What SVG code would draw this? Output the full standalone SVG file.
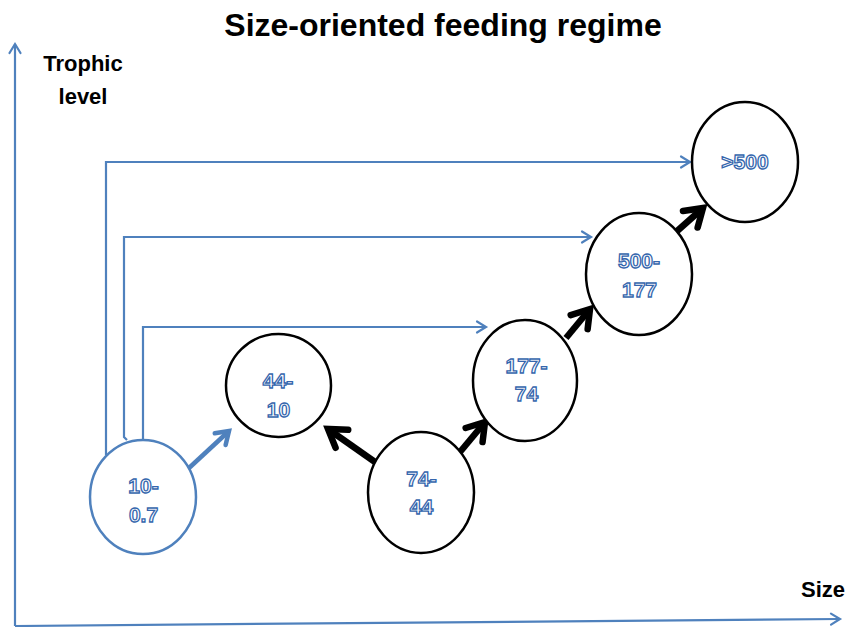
<svg xmlns="http://www.w3.org/2000/svg" width="848" height="627" viewBox="0 0 848 627">
<style>
.lbl{font-family:"Liberation Sans",Arial,sans-serif;font-weight:bold;fill:#000}
.nt{font-family:"Liberation Sans",Arial,sans-serif;font-weight:bold;font-size:21px;fill:#fff;stroke:#3566ad;stroke-width:1.3;text-anchor:middle}
.nb{fill:#fff;stroke:#000;stroke-width:2.5}
.nbl{fill:#fff;stroke:#4f81bd;stroke-width:2.5}
.thin{fill:none;stroke:#4f81bd;stroke-width:2.2}
.thick{fill:none;stroke:#4f81bd;stroke-width:4.5}
.blk{fill:none;stroke:#000;stroke-width:6.5}
</style>
<defs>
<marker id="mThin" markerUnits="userSpaceOnUse" refX="0" refY="0" markerWidth="20" markerHeight="20" orient="auto" overflow="visible">
<path d="M-9,-5.5 L0,0 L-9,5.5" fill="none" stroke="#4f81bd" stroke-width="2.2" stroke-linecap="round"/>
</marker>
<marker id="mThick" markerUnits="userSpaceOnUse" refX="0" refY="0" markerWidth="30" markerHeight="30" orient="auto" overflow="visible">
<path d="M-12,-8 L0,0 L-12,8" fill="none" stroke="#4f81bd" stroke-width="4.5" stroke-linecap="round"/>
</marker>
<marker id="mBlk" markerUnits="userSpaceOnUse" refX="0" refY="0" markerWidth="40" markerHeight="40" orient="auto" overflow="visible">
<path d="M-17,-11 L0,0 L-17,11" fill="none" stroke="#000" stroke-width="6.5" stroke-linecap="round"/>
</marker>
</defs>

<text class="lbl" x="443" y="36" font-size="32" text-anchor="middle">Size-oriented feeding regime</text>

<g id="axes">
<path class="thin" d="M15,626 V44" marker-end="url(#mThin)"/>
<path class="thin" d="M15,626 L840,619" marker-end="url(#mThin)"/>
<text class="lbl" x="83" y="71" font-size="22" text-anchor="middle">Trophic</text>
<text class="lbl" x="83" y="104" font-size="22" text-anchor="middle">level</text>
<text class="lbl" x="823" y="597" font-size="22" text-anchor="middle">Size</text>
</g>

<g id="connectors">
<path class="thin" d="M106,455 V162 H690" marker-end="url(#mThin)"/>
<path class="thin" d="M127,440 L124,437 V237 H591" marker-end="url(#mThin)"/>
<path class="thin" d="M143,439 V327 H486" marker-end="url(#mThin)"/>
<path class="thick" d="M189,468 L229,431" marker-end="url(#mThick)"/>
<path class="blk" d="M375,462 L328,429" marker-end="url(#mBlk)"/>
<path class="blk" d="M460,452 L485,422" marker-end="url(#mBlk)"/>
<path class="blk" d="M566,338 L590,309" marker-end="url(#mBlk)"/>
<path class="blk" d="M676,232 L703,208" marker-end="url(#mBlk)"/>
</g>

<g id="n10-0.7">
<ellipse class="nbl" cx="143" cy="497" rx="53" ry="57"/>
<text class="nt" x="143.5" y="493">10-</text>
<text class="nt" x="143.5" y="522">0.7</text>
</g>
<g id="n44-10">
<ellipse class="nb" cx="278.5" cy="385.5" rx="52.5" ry="51.5"/>
<text class="nt" x="278" y="388">44-</text>
<text class="nt" x="278.5" y="417">10</text>
</g>
<g id="n74-44">
<ellipse class="nb" cx="421" cy="492.5" rx="53" ry="60.5"/>
<text class="nt" x="421.5" y="486">74-</text>
<text class="nt" x="421.5" y="514">44</text>
</g>
<g id="n177-74">
<ellipse class="nb" cx="525" cy="380.5" rx="52" ry="60.5"/>
<text class="nt" x="526.5" y="373">177-</text>
<text class="nt" x="526.5" y="401">74</text>
</g>
<g id="n500-177">
<ellipse class="nb" cx="639" cy="274" rx="53" ry="61"/>
<text class="nt" x="639" y="268">500-</text>
<text class="nt" x="639.5" y="297">177</text>
</g>
<g id="n500">
<ellipse class="nb" cx="745" cy="162" rx="53" ry="60"/>
<text class="nt" x="745" y="169">&gt;500</text>
</g>
</svg>
